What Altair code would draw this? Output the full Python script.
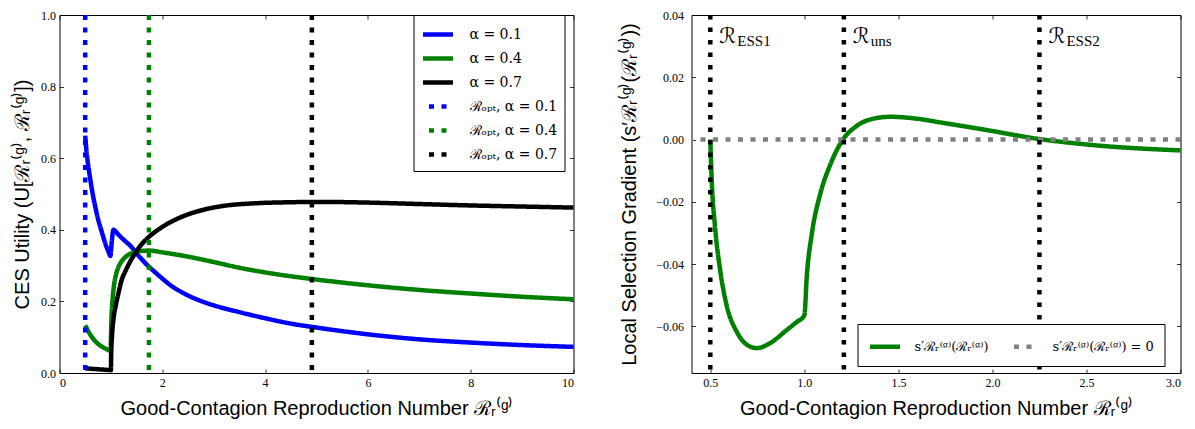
import altair as alt
import pandas as pd

# ---------------- Left panel: CES utility ----------------
x_blue = [0.5, 0.52, 0.55, 0.6, 0.65, 0.7, 0.75, 0.8, 0.85, 0.9, 0.95, 0.99,
          1.02, 1.05, 1.08, 1.15, 1.25, 1.4, 1.5, 1.6, 1.73, 1.8, 2.0, 2.18, 2.3, 2.6,
          2.83, 3.0, 3.5, 4.0, 4.5, 5.0, 6.0, 7.0, 8.0, 9.0, 10.0]
u_blue = [0.663, 0.628, 0.589, 0.540, 0.497, 0.462, 0.430, 0.405, 0.381, 0.358, 0.340, 0.327,
          0.372, 0.400, 0.397, 0.386, 0.372, 0.352, 0.334, 0.318, 0.298, 0.289, 0.264, 0.243, 0.232, 0.210,
          0.197, 0.189, 0.170, 0.153, 0.138, 0.127, 0.108, 0.094, 0.085, 0.078, 0.073]

x_green = [0.5, 0.6, 0.7, 0.8, 0.9, 0.995, 1.0, 1.01, 1.03, 1.06, 1.1, 1.15, 1.2,
           1.3, 1.45, 1.6, 1.75, 2.0, 2.5, 3.0, 3.5, 4.0, 5.0, 6.0, 7.0, 8.0, 9.0, 10.0]
u_green = [0.133, 0.107, 0.088, 0.076, 0.068, 0.062, 0.090, 0.150, 0.200, 0.245, 0.275, 0.297, 0.310,
           0.326, 0.337, 0.341, 0.342, 0.337, 0.325, 0.310, 0.294, 0.281, 0.261, 0.245, 0.232, 0.222, 0.213, 0.206]

x_black = [0.5, 0.7, 0.9, 1.0, 1.005, 1.02, 1.05, 1.1, 1.15, 1.2, 1.3, 1.47, 1.6, 1.73,
           2.0, 2.18, 2.5, 2.83, 3.2, 3.8, 4.5, 5.0, 6.0, 7.0, 8.0, 9.0, 10.0]
u_black = [0.013, 0.011, 0.009, 0.008, 0.050, 0.100, 0.150, 0.192, 0.225, 0.255, 0.290, 0.334, 0.360, 0.379,
           0.408, 0.423, 0.443, 0.457, 0.467, 0.474, 0.477, 0.478, 0.476, 0.472, 0.468, 0.465, 0.462]

alpha_labels = ["α = 0.1", "α = 0.4", "α = 0.7"]
opt_labels = ["ℛₒₚₜ, α = 0.1", "ℛₒₚₜ, α = 0.4", "ℛₒₚₜ, α = 0.7"]
opt_x = [0.5, 1.74, 4.91]
series_colors = ["#0000ff", "#008000", "#000000"]

# ---------------- Right panel: local selection gradient ----------------
x_grad = [0.5, 0.507, 0.525, 0.552, 0.587, 0.64, 0.694, 0.747, 0.818, 0.906, 0.96, 1.0,
          1.013, 1.04, 1.084, 1.137, 1.202, 1.279, 1.367, 1.456, 1.598, 1.722,
          1.935, 2.245, 2.555, 3.0]
s_grad = [0.0, -0.0124, -0.028, -0.0418, -0.0533, -0.0617, -0.0659, -0.0670, -0.0654, -0.0612, -0.0586, -0.0565,
          -0.0439, -0.0302, -0.0176, -0.0082, -0.0003, 0.0044, 0.0067, 0.0073, 0.0067, 0.0055,
          0.0034, 0.0002, -0.0019, -0.0035]
grad_labels = ["s′ℛᵣ⁽ᵍ⁾(ℛᵣ⁽ᵍ⁾)", "s′ℛᵣ⁽ᵍ⁾(ℛᵣ⁽ᵍ⁾) = 0"]
crit_x = [0.5, 1.21, 2.25]
crit_sub = ["ESS1", "uns", "ESS2"]

# ---------------- tables ----------------
df_left = pd.concat([
    pd.DataFrame({"x": x_blue, "u": u_blue, "series": alpha_labels[0]}),
    pd.DataFrame({"x": x_green, "u": u_green, "series": alpha_labels[1]}),
    pd.DataFrame({"x": x_black, "u": u_black, "series": alpha_labels[2]}),
], ignore_index=True)
df_opt = pd.DataFrame({"x": opt_x, "series": opt_labels})
df_grad = pd.DataFrame({"x": x_grad, "s": s_grad, "curve": grad_labels[0]})
df_zero = pd.DataFrame({"s": [0.0], "curve": [grad_labels[1]]})
df_crit = pd.DataFrame({"x": crit_x, "s": [0.031] * 3, "sub": crit_sub})

SERIF = "Liberation Serif"
SANS = "Liberation Sans"
TICK = 4
H = 358


def axis(orient, values, fmt=None, title=None, labels=True, label_pad=4, title_pad=10):
    kw = dict(orient=orient, values=values, offset=-TICK, tickSize=TICK, domain=False, grid=False,
              tickColor="black", tickWidth=0.8, labels=labels, title=title)
    if labels:
        kw.update(labelFont=SERIF, labelFontSize=12, labelColor="black", labelPadding=label_pad)
        if fmt:
            kw["format"] = fmt
    if title is not None:
        kw.update(titleFont=SANS, titleFontSize=20, titleFontWeight="normal",
                  titleColor="black", titlePadding=title_pad)
    return alt.Axis(**kw)


x_title = "Good-Contagion Reproduction Number ℛᵣ⁽ᵍ⁾"
LEG_SYMBOL = "M-1,0H2"

# ---- left panel ----
XL = alt.Scale(domain=[0, 10], nice=False, zero=False)
YL = alt.Scale(domain=[0, 1], nice=False, zero=False)
all_left = alpha_labels + opt_labels
col_L = alt.Scale(domain=all_left, range=series_colors + series_colors)
dash_L = alt.Scale(domain=all_left, range=[[1, 0]] * 3 + [[5, 7.5]] * 3)
leg_L = alt.Legend(title=None, orient="none", legendX=354, legendY=0, symbolType=LEG_SYMBOL,
                   symbolSize=400, symbolStrokeWidth=4.5, symbolDashOffset=6.5,
                   labelFont="DejaVu Serif", labelFontSize=14,
                   labelColor="black", labelLimit=400, strokeColor="black", fillColor="white",
                   padding=7, rowPadding=2, labelOffset=24)

xvals_L = [0, 2, 4, 6, 8, 10]
yvals_L = [0, 0.2, 0.4, 0.6, 0.8, 1.0]

lines_L = alt.Chart(df_left).mark_line(strokeWidth=4.5, strokeJoin="round", interpolate="monotone").encode(
    x=alt.X("x:Q", scale=XL, axis=axis("bottom", xvals_L, "d", x_title, label_pad=4, title_pad=10)),
    y=alt.Y("u:Q", scale=YL, axis=axis("left", yvals_L, ".1f",
                                         "CES Utility (U[ℛᵣ⁽ᵍ⁾, ℛᵣ⁽ᵍ⁾])", label_pad=4, title_pad=8)),
    color=alt.Color("series:N", scale=col_L, legend=leg_L),
    strokeDash=alt.StrokeDash("series:N", scale=dash_L, legend=leg_L),
)
rules_L = alt.Chart(df_opt).mark_rule(strokeWidth=4.5).encode(
    x=alt.X("x:Q", scale=XL, axis=None),
    color=alt.Color("series:N", scale=col_L, legend=leg_L),
    strokeDash=alt.StrokeDash("series:N", scale=dash_L, legend=leg_L),
)
mirror_L = alt.Chart(df_left).mark_point(opacity=0, size=1).encode(
    x=alt.X("x:Q", scale=XL, axis=axis("top", xvals_L, labels=False)),
    y=alt.Y("u:Q", scale=YL, axis=axis("right", yvals_L, labels=False)),
)
left = alt.layer(lines_L, rules_L, mirror_L).resolve_axis(
    x="independent", y="independent").properties(width=514, height=H)

# ---- right panel ----
XR = alt.Scale(domain=[0.4, 3.0], nice=False, zero=False)
YR = alt.Scale(domain=[-0.075, 0.04], nice=False, zero=False)
col_R = alt.Scale(domain=grad_labels, range=["#008000", "#808080"])
dash_R = alt.Scale(domain=grad_labels, range=[[1, 0], [5, 7.5]])
leg_R = alt.Legend(title=None, orient="none", legendX=166, legendY=309, direction="horizontal",
                   columns=2, symbolType=LEG_SYMBOL, symbolSize=400, symbolStrokeWidth=4.5,
                   symbolDashOffset=6.5,
                   labelFont="DejaVu Serif", labelFontSize=13, labelColor="black", labelLimit=400,
                   strokeColor="black", fillColor="white", padding=10, columnPadding=10, labelOffset=22)

xvals_R = [0.5, 1.0, 1.5, 2.0, 2.5, 3.0]
yvals_R = [-0.06, -0.04, -0.02, 0.0, 0.02, 0.04]

line_R = alt.Chart(df_grad).mark_line(strokeWidth=4.5, strokeJoin="round", interpolate="monotone").encode(
    x=alt.X("x:Q", scale=XR, axis=axis("bottom", xvals_R, ".1f", x_title, label_pad=4, title_pad=10)),
    y=alt.Y("s:Q", scale=YR, axis=axis("left", yvals_R, ".2f",
                                         "Local Selection Gradient (s′ℛᵣ⁽ᵍ⁾(ℛᵣ⁽ᵍ⁾))",
                                         label_pad=8, title_pad=16)),
    color=alt.Color("curve:N", scale=col_R, legend=leg_R),
    strokeDash=alt.StrokeDash("curve:N", scale=dash_R, legend=leg_R),
)
zero_R = alt.Chart(df_zero).mark_rule(strokeWidth=4.5).encode(
    y=alt.Y("s:Q", scale=YR, axis=None),
    color=alt.Color("curve:N", scale=col_R, legend=leg_R),
    strokeDash=alt.StrokeDash("curve:N", scale=dash_R, legend=leg_R),
)
crit_R = alt.Chart(df_crit).mark_rule(strokeWidth=4.5, color="black", strokeDash=[4.5, 8]).encode(
    x=alt.X("x:Q", scale=XR, axis=None),
)
calR = alt.Chart(df_crit).mark_text(text="ℛ", align="left", baseline="alphabetic", dx=9,
                                    font="DejaVu Sans", fontSize=21, color="black").encode(
    x=alt.X("x:Q", scale=XR, axis=None),
    y=alt.Y("s:Q", scale=YR, axis=None),
)
subR = alt.Chart(df_crit).mark_text(align="left", baseline="alphabetic", dx=27, dy=3,
                                    font=SERIF, fontSize=15, color="black").encode(
    x=alt.X("x:Q", scale=XR, axis=None),
    y=alt.Y("s:Q", scale=YR, axis=None),
    text="sub:N",
)
mirror_R = alt.Chart(df_grad).mark_point(opacity=0, size=1).encode(
    x=alt.X("x:Q", scale=XR, axis=axis("top", xvals_R, labels=False)),
    y=alt.Y("s:Q", scale=YR, axis=axis("right", yvals_R, labels=False)),
)
right = alt.layer(line_R, zero_R, crit_R, calR, subR, mirror_R).resolve_axis(
    x="independent", y="independent").properties(width=489, height=H)

chart = alt.hconcat(left, right, spacing=42).resolve_scale(
    color="independent", strokeDash="independent"
).resolve_legend(color="independent", strokeDash="independent").properties(
    padding={"left": 3.5, "top": 0, "right": 0, "bottom": 0}
).configure_view(stroke="black", strokeWidth=1)

chart.save("out.html", embed_options={"renderer": "svg", "actions": False})
